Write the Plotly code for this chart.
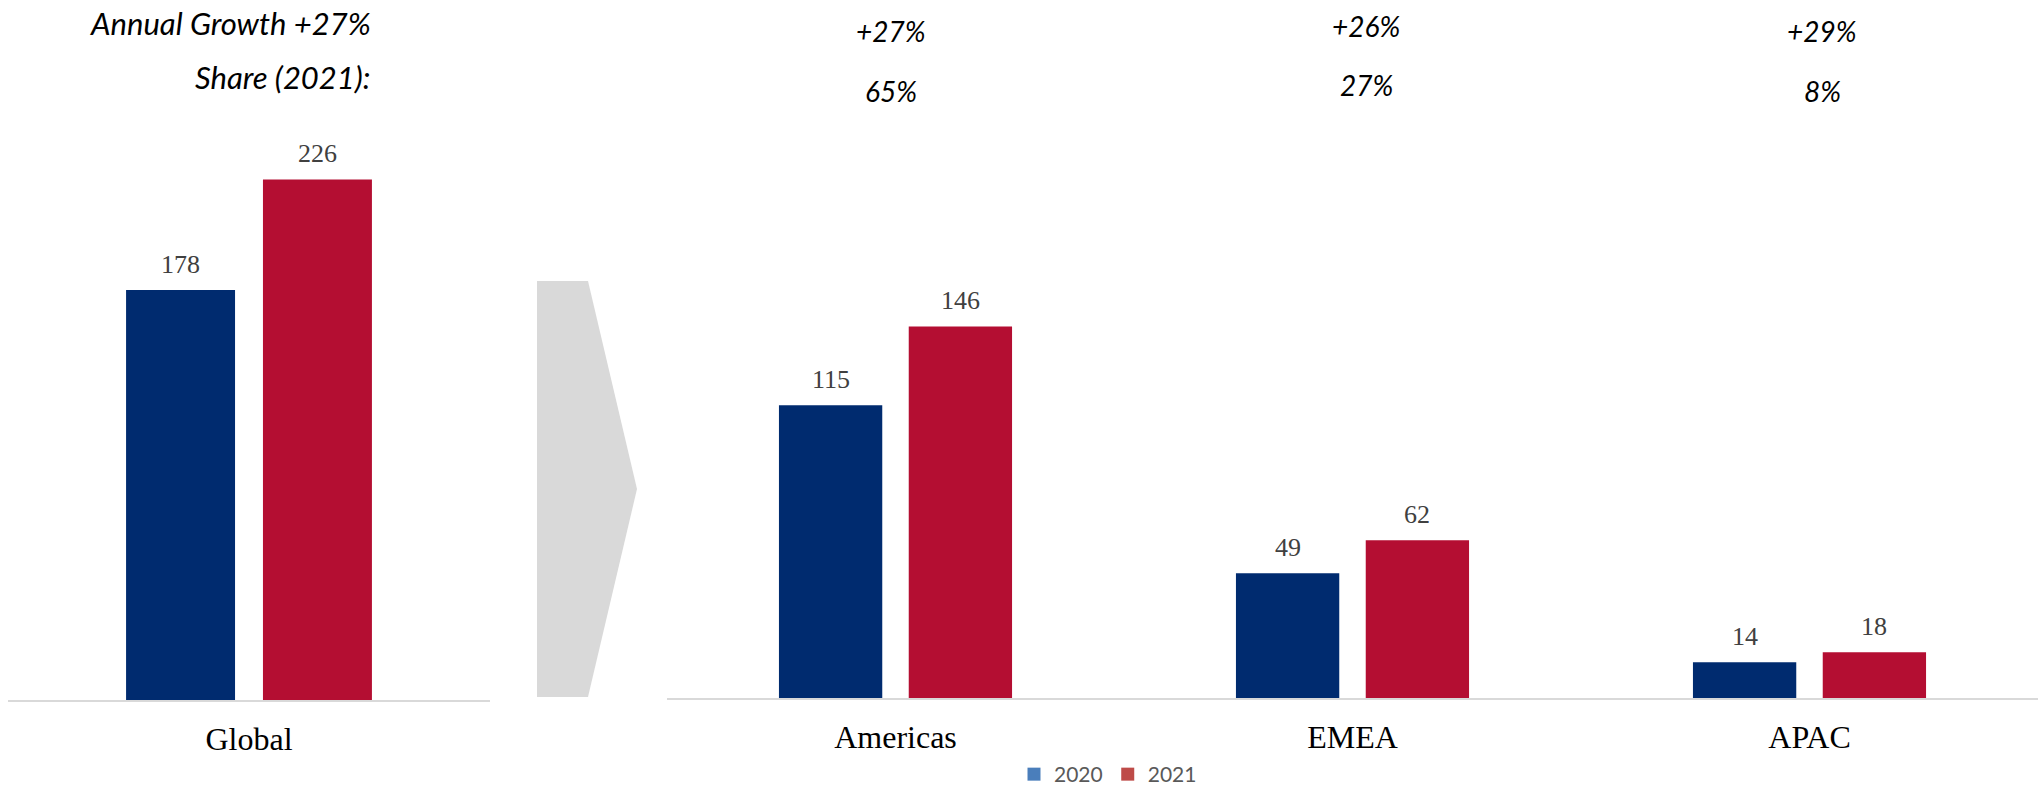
import plotly.graph_objects as go

# ---- data -------------------------------------------------------------
global_cat = ["Global"]
global_2020 = [178]
global_2021 = [226]

regions = ["Americas", "EMEA", "APAC"]
region_2020 = [115, 49, 14]
region_2021 = [146, 62, 18]

growth_global = "+27%"
growth_regions = ["+27%", "+26%", "+29%"]
share_regions = ["65%", "27%", "8%"]

series_names = ["2020", "2021"]

# ---- style ------------------------------------------------------------
W, H = 2042, 789
BAR_COLORS = ["#002B6F", "#B40E32"]
LEGEND_COLORS = ["#4A7EBB", "#BE4B48"]
AXIS_GREY = "#D9D9D9"
LABEL_GREY = "#404040"
SERIF = "Liberation Serif, Times New Roman, serif"
SANS = "Lato, Calibri, sans-serif"
BARGAP = 0.432
BARGROUPGAP = 0.204


def px_x(p):
    return p / W


def px_y(p):
    return (H - p) / H


fig = go.Figure()

# bars: left panel (global total) and right panel (regional split)
for k, name in enumerate(series_names):
    fig.add_trace(go.Bar(
        x=global_cat, y=[global_2020, global_2021][k],
        marker=dict(color=BAR_COLORS[k], line=dict(width=0)),
        xaxis="x", yaxis="y", showlegend=False, name=name,
        hoverinfo="skip",
    ))
    fig.add_trace(go.Bar(
        x=regions, y=[region_2020, region_2021][k],
        marker=dict(color=BAR_COLORS[k], line=dict(width=0)),
        xaxis="x2", yaxis="y2", showlegend=False, name=name,
        hoverinfo="skip",
    ))

# legend entries
for k, name in enumerate(series_names):
    fig.add_trace(go.Scatter(
        x=[None], y=[None], mode="markers", name=name,
        marker=dict(symbol="square", size=13, color=LEGEND_COLORS[k]),
        xaxis="x2", yaxis="y2", showlegend=True,
    ))

# value labels above each bar
annotations = []
slot = (1 - BARGAP) / 2
panels = [
    ("x", "y", global_cat, [global_2020, global_2021]),
    ("x2", "y2", regions, [region_2020, region_2021]),
]
for xref, yref, cats, series in panels:
    for k, vals in enumerate(series):
        for i, v in enumerate(vals):
            annotations.append(dict(
                x=i + (k - 0.5) * slot, y=v, xref=xref, yref=yref,
                text=str(v), showarrow=False, yanchor="bottom",
                yshift=9, font=dict(family=SERIF, size=26, color=LABEL_GREY),
            ))

# headline texts
head_font_left = dict(family=SANS, size=31, color="#000000", style="italic")
head_font = dict(family=SANS, size=28, color="#000000", style="italic")
annotations.append(dict(
    x=px_x(373), y=px_y(23), xref="paper", yref="paper",
    text=f"Annual Growth {growth_global}", showarrow=False,
    xanchor="right", yanchor="middle", font=head_font_left,
))
annotations.append(dict(
    x=px_x(373), y=px_y(77), xref="paper", yref="paper",
    text="Share (2021):", showarrow=False,
    xanchor="right", yanchor="middle", font=head_font_left,
))
growth_x = [891, 1366, 1822]
growth_y = [31, 26, 31]
share_y = [91, 85, 91]
for i in range(len(regions)):
    annotations.append(dict(
        x=px_x(growth_x[i]), y=px_y(growth_y[i]), xref="paper", yref="paper",
        text=growth_regions[i], showarrow=False,
        xanchor="center", yanchor="middle", font=head_font,
    ))
    annotations.append(dict(
        x=px_x(growth_x[i]), y=px_y(share_y[i]), xref="paper", yref="paper",
        text=share_regions[i], showarrow=False,
        xanchor="center", yanchor="middle", font=head_font,
    ))

# grey chevron between the panels
ax0, ax1, ax2 = px_x(537), px_x(588), px_x(637)
ay0, ay1, ay2 = px_y(281), px_y(489), px_y(697)
chevron = dict(
    type="path", xref="paper", yref="paper",
    path=f"M {ax0},{ay0} L {ax1},{ay0} L {ax2},{ay1} L {ax1},{ay2} L {ax0},{ay2} Z",
    fillcolor=AXIS_GREY, line=dict(width=0), layer="below",
)

tick_font = dict(family=SERIF, size=32, color="#000000")
axis_common = dict(
    type="category", showline=True, linecolor=AXIS_GREY, linewidth=2,
    showgrid=False, zeroline=False, ticks="", tickfont=tick_font,
    ticklabelstandoff=10, fixedrange=True,
)
yaxis_common = dict(
    showline=False, showgrid=False, zeroline=False, showticklabels=False,
    ticks="", fixedrange=True,
)

fig.update_layout(
    width=W, height=H,
    margin=dict(l=0, r=0, t=0, b=0, autoexpand=False),
    paper_bgcolor="#FFFFFF", plot_bgcolor="rgba(0,0,0,0)",
    barmode="group", bargap=BARGAP, bargroupgap=BARGROUPGAP,
    xaxis=dict(domain=[px_x(8), px_x(490)], range=[-0.5, 0.5],
               anchor="y", **axis_common),
    yaxis=dict(domain=[px_y(700), px_y(100)], range=[0, 600 / 2.3035],
               anchor="x", **yaxis_common),
    xaxis2=dict(domain=[px_x(667), px_x(2038)], range=[-0.5, 2.5],
                anchor="y2", **axis_common),
    yaxis2=dict(domain=[px_y(698), px_y(98)], range=[0, 600 / 2.545],
                anchor="x2", **yaxis_common),
    showlegend=True,
    legend=dict(
        orientation="h", x=px_x(1108), y=-6 / H,
        xanchor="center", yanchor="bottom",
        font=dict(family=SANS, size=21, color="#595959"),
        bgcolor="rgba(0,0,0,0)", itemclick=False, itemdoubleclick=False,
    ),
    annotations=annotations,
    shapes=[chevron],
)

fig.write_html("out.html")
